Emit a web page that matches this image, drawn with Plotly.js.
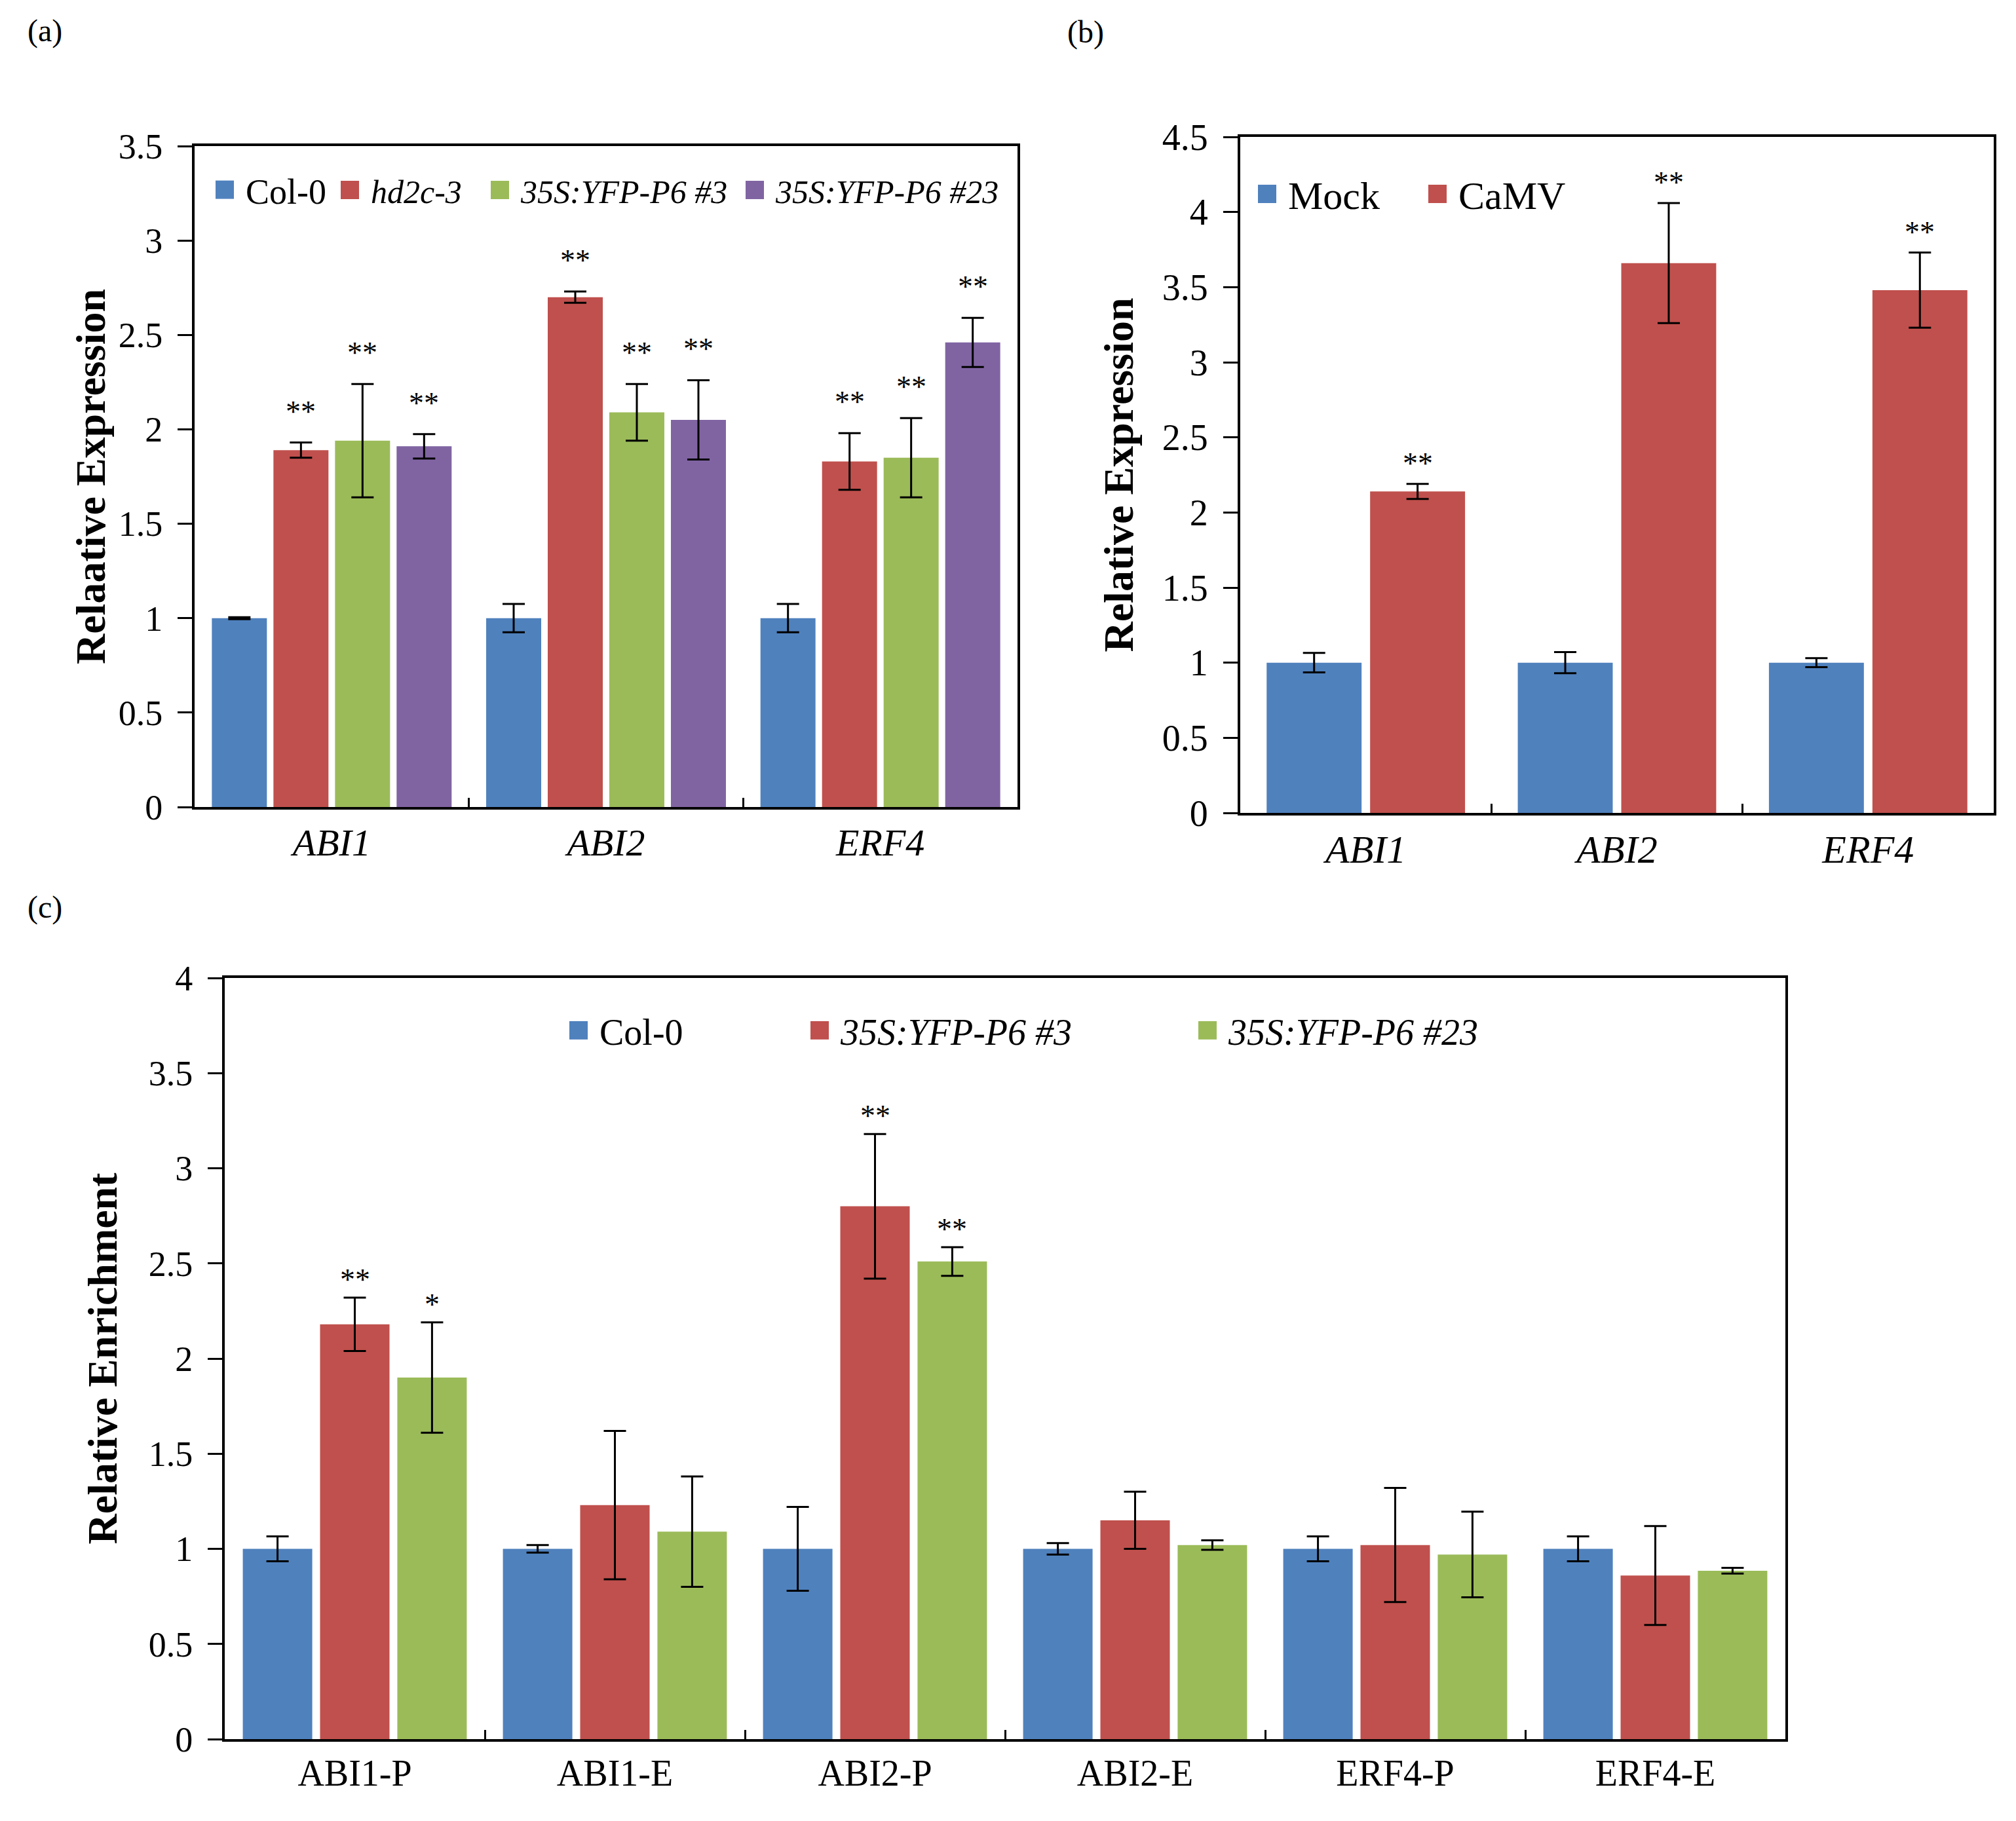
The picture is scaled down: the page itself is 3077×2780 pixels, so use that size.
<!DOCTYPE html>
<html>
<head>
<meta charset="utf-8">
<script src="https://cdn.plot.ly/plotly-3.0.1.min.js"></script>
<style>html,body{margin:0;padding:0;background:#fff;}#chart{width:3077px;height:2780px;}</style>
</head>
<body>
<div id="chart"></div>
<script>
// ---------------- DATA ----------------
// Panel (a): qRT-PCR, relative expression
const catsA = ['ABI1', 'ABI2', 'ERF4'];
const col0A = [1.00, 1.00, 1.00];
const col0AErr = [0.005, 0.075, 0.075];
const hd2cA = [1.89, 2.70, 1.83];
const hd2cAErr = [0.04, 0.03, 0.15];
const p3A = [1.94, 2.09, 1.85];
const p3AErr = [0.30, 0.15, 0.21];
const p23A = [1.91, 2.05, 2.46];
const p23AErr = [0.065, 0.21, 0.13];
const col0AStars = ['', '', ''];
const hd2cAStars = ['**', '**', '**'];
const p3AStars = ['**', '**', '**'];
const p23AStars = ['**', '**', '**'];

// Panel (b): Mock vs CaMV
const catsB = ['ABI1', 'ABI2', 'ERF4'];
const mockB = [1.00, 1.00, 1.00];
const mockBErr = [0.065, 0.07, 0.03];
const camvB = [2.14, 3.66, 3.48];
const camvBErr = [0.05, 0.40, 0.25];
const mockBStars = ['', '', ''];
const camvBStars = ['**', '**', '**'];

// Panel (c): ChIP, relative enrichment
const catsC = ['ABI1-P', 'ABI1-E', 'ABI2-P', 'ABI2-E', 'ERF4-P', 'ERF4-E'];
const col0C = [1.00, 1.00, 1.00, 1.00, 1.00, 1.00];
const col0CErr = [0.065, 0.02, 0.22, 0.03, 0.065, 0.065];
const p3C = [2.18, 1.23, 2.80, 1.15, 1.02, 0.86];
const p3CErr = [0.14, 0.39, 0.38, 0.15, 0.30, 0.26];
const p23C = [1.90, 1.09, 2.51, 1.02, 0.97, 0.885];
const p23CErr = [0.29, 0.29, 0.075, 0.025, 0.225, 0.015];
const col0CStars = ['', '', '', '', '', ''];
const p3CStars = ['**', '', '**', '', '', ''];
const p23CStars = ['*', '', '**', '', '', ''];

// tick values
const ticksA = [0, 0.5, 1, 1.5, 2, 2.5, 3, 3.5];
const ticksB = [0, 0.5, 1, 1.5, 2, 2.5, 3, 3.5, 4, 4.5];
const ticksC = [0, 0.5, 1, 1.5, 2, 2.5, 3, 3.5, 4];

// ---------------- STYLE / LAYOUT ----------------
const W = 3077, H = 2780;
const FONT = 'Liberation Serif, Times New Roman, serif';
const BLUE = '#4F81BD', RED = '#C0504D', GREEN = '#9BBB59', PURPLE = '#8064A2';
const ITEM_W = 46;            // legend item symbol width
const TEXT_X = ITEM_W + 10;   // legend text offset inside the legend

const panels = {
  a: {l: 297, r: 1553, t: 223, b: 1232, xa: 'x', ya: 'y', cats: catsA, range: [0, 3.5], ticks: ticksA,
      slot: 0.2245, bw: 0.2006, starShift: 20, title: 'Relaative Expression', standoff: 0,
      tickSize: 54, xSize: 58, xItalic: true, titleSize: 64, legendSize: 54, legendItSize: 50, legendY: 290},
  b: {l: 1893, r: 3043, t: 209, b: 1241, xa: 'x2', ya: 'y2', cats: catsB, range: [0, 4.5], ticks: ticksB,
      slot: 0.412, bw: 0.378, starShift: 4, title: 'Relative Expression', standoff: 24,
      tickSize: 56, xSize: 60, xItalic: true, titleSize: 64, legendSize: 60, legendItSize: 60, legendY: 296},
  c: {l: 343, r: 2725, t: 1493, b: 2655, xa: 'x3', ya: 'y3', cats: catsC, range: [0, 4], ticks: ticksC,
      slot: 0.297, bw: 0.267, starShift: 0, title: 'Relative Enrichment', standoff: 28,
      tickSize: 54, xSize: 56, xItalic: false, titleSize: 64, legendSize: 56, legendItSize: 56, legendY: 1573}
};

const series = {
  a: [
    {name: 'Col-0', y: col0A, e: col0AErr, s: col0AStars, c: BLUE, lx: 375, it: false},
    {name: 'hd2c-3', y: hd2cA, e: hd2cAErr, s: hd2cAStars, c: RED, lx: 566, it: true},
    {name: '35S:YFP-P6 #3', y: p3A, e: p3AErr, s: p3AStars, c: GREEN, lx: 795, it: true},
    {name: '35S:YFP-P6 #23', y: p23A, e: p23AErr, s: p23AStars, c: PURPLE, lx: 1184, it: true}
  ],
  b: [
    {name: 'Mock', y: mockB, e: mockBErr, s: mockBStars, c: BLUE, lx: 1966, it: false},
    {name: 'CaMV', y: camvB, e: camvBErr, s: camvBStars, c: RED, lx: 2226, it: false}
  ],
  c: [
    {name: 'Col-0', y: col0C, e: col0CErr, s: col0CStars, c: BLUE, lx: 915, it: false},
    {name: '35S:YFP-P6 #3', y: p3C, e: p3CErr, s: p3CStars, c: RED, lx: 1283, it: true},
    {name: '35S:YFP-P6 #23', y: p23C, e: p23CErr, s: p23CStars, c: GREEN, lx: 1875, it: true}
  ]
};

const traces = [];
const annotations = [];
const layout = {
  width: W, height: H,
  margin: {l: 0, r: 0, t: 0, b: 0},
  paper_bgcolor: '#ffffff', plot_bgcolor: '#ffffff',
  font: {family: FONT, color: '#000000'},
  barmode: 'group',
  showlegend: true
};

let legendIdx = 1;
Object.keys(panels).forEach((key, pi) => {
  const p = panels[key];
  const n = series[key].length;
  const catPx = (p.r - p.l) / p.cats.length;
  const sfx = pi === 0 ? '' : String(pi + 1);

  layout['xaxis' + sfx] = {
    domain: [p.l / W, p.r / W], anchor: p.ya,
    type: 'category', categoryorder: 'array', categoryarray: p.cats,
    showline: true, mirror: true, linecolor: '#000', linewidth: 4,
    ticks: 'inside', tickson: 'boundaries', ticklen: 14, tickwidth: 3, tickcolor: '#000',
    showgrid: false, zeroline: false, fixedrange: true,
    tickfont: {family: FONT, size: p.xSize, color: '#000', style: p.xItalic ? 'italic' : 'normal'}
  };
  layout['yaxis' + sfx] = {
    domain: [1 - p.b / H, 1 - p.t / H], anchor: p.xa,
    range: p.range, tickmode: 'array', tickvals: p.ticks,
    showline: true, mirror: true, linecolor: '#000', linewidth: 4,
    ticks: 'outside', ticklen: 22, tickwidth: 3, tickcolor: '#000',
    showgrid: false, zeroline: false, fixedrange: true,
    tickfont: {family: FONT, size: p.tickSize, color: '#000'},
    ticklabelstandoff: 12,
    title: {text: '<b>' + p.title + '</b>', font: {family: FONT, size: p.titleSize, color: '#000'}, standoff: p.standoff}
  };

  series[key].forEach((s, i) => {
    const center = (i - (n - 1) / 2) * p.slot;
    const lg = legendIdx === 1 ? 'legend' : 'legend' + legendIdx;
    legendIdx++;
    traces.push({
      type: 'bar', name: s.name, x: p.cats, y: s.y,
      xaxis: p.xa, yaxis: p.ya,
      width: p.bw, offset: center - p.bw / 2,
      marker: {color: s.c, line: {width: 0}},
      error_y: {type: 'data', array: s.e, visible: true, color: '#000', thickness: 3, width: 17},
      legend: lg, hoverinfo: 'skip'
    });
    layout[lg] = {
      x: (s.lx - TEXT_X) / W, y: 1 - p.legendY / H, xanchor: 'left', yanchor: 'middle',
      itemwidth: ITEM_W,
      bgcolor: 'rgba(0,0,0,0)', borderwidth: 0,
      font: {family: FONT, size: s.it ? p.legendItSize : p.legendSize, color: '#000', style: s.it ? 'italic' : 'normal'}
    };
    s.s.forEach((txt, j) => {
      if (!txt) return;
      annotations.push({
        xref: p.xa, yref: p.ya, x: p.cats[j], y: s.y[j] + s.e[j],
        text: txt, showarrow: false, xanchor: 'center', yanchor: 'bottom',
        xshift: center * catPx, yshift: p.starShift,
        font: {family: FONT, size: 46, color: '#000'}
      });
    });
  });
});

// panel letters
[['(a)', 68, 47], ['(b)', 1657, 49], ['(c)', 68, 1385]].forEach(([t, x, y]) => {
  annotations.push({xref: 'paper', yref: 'paper', x: x / W, y: 1 - y / H, text: t, showarrow: false,
    xanchor: 'center', yanchor: 'middle', font: {family: FONT, size: 48, color: '#000'}});
});
layout.annotations = annotations;

// enlarge the legend swatches (bar legend icons are a fixed 12px square)
function enlargeSwatches() {
  document.querySelectorAll('g.legendpoints path').forEach(el => {
    el.setAttribute('d', 'M14,14H-14V-14H14Z');
    el.setAttribute('transform', 'translate(24,0)');
  });
}
const gd = document.getElementById('chart');
Plotly.newPlot(gd, traces, layout, {displayModeBar: false}).then(() => {
  enlargeSwatches();
  gd.on('plotly_afterplot', enlargeSwatches);
  [50, 200, 600].forEach(t => setTimeout(enlargeSwatches, t));
});
</script>
</body>
</html>
